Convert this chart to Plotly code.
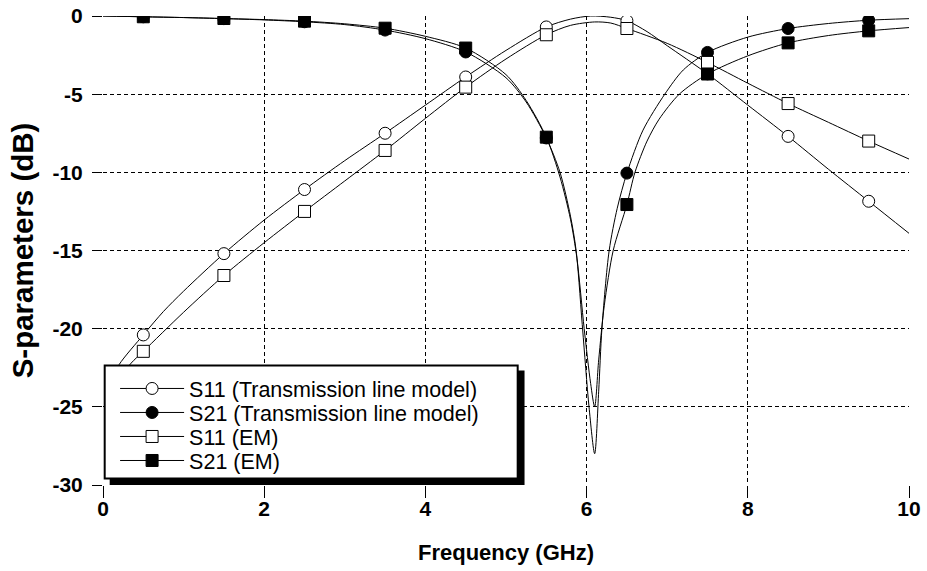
import plotly.graph_objects as go

# Frequency points (GHz) and S-parameter magnitudes (dB) for each curve
s11_tl_x = [0.10, 0.20, 0.50, 0.75, 1.00, 1.50, 2.00, 2.50, 3.00, 3.50, 4.00, 4.50,
            5.00, 5.50, 5.80, 6.05, 6.30, 6.50, 6.75, 7.00, 7.50, 8.00, 8.50, 9.00,
            9.50, 10.0]
s11_tl_y = [-23.4, -22.3, -20.4, -18.9, -17.6, -15.2, -13.05, -11.1, -9.25, -7.5, -5.7, -3.9,
            -2.2, -0.7, -0.2, 0.0, -0.08, -0.3, -1.0, -1.9, -3.7, -5.7, -7.7, -9.8,
            -11.85, -13.9]

s21_tl_x = [0.0, 0.5, 1.0, 1.5, 2.0, 2.5, 3.0, 3.5, 4.0, 4.5, 5.0, 5.25, 5.5, 5.67,
            5.8, 5.87, 5.95, 6.03, 6.10, 6.15, 6.19, 6.28, 6.38, 6.5, 6.7, 6.97, 7.2,
            7.5, 8.0, 8.5, 9.0, 9.5, 10.0]
s21_tl_y = [0.0, -0.05, -0.1, -0.17, -0.25, -0.37, -0.55, -0.9, -1.45, -2.3, -3.95, -5.5,
            -7.8, -10.0, -12.8, -15.0, -20.0, -25.0, -28.0, -24.0, -20.0, -15.0, -12.3,
            -10.05, -7.3, -5.0, -3.45, -2.33, -1.35, -0.8, -0.48, -0.27, -0.17]

s11_em_x = [0.20, 0.35, 0.50, 1.00, 1.50, 2.00, 2.50, 3.00, 3.50, 4.00, 4.50, 5.00,
            5.50, 5.80, 6.10, 6.30, 6.50, 7.00, 7.50, 8.00, 8.50, 9.00, 9.50, 10.0]
s11_em_y = [-23.2, -22.2, -21.45, -18.95, -16.6, -14.5, -12.5, -10.55, -8.6, -6.55, -4.55,
            -2.75, -1.2, -0.6, -0.38, -0.45, -0.8, -1.75, -2.97, -4.3, -5.6, -6.8, -8.0,
            -9.15]

s21_em_x = [0.0, 0.5, 1.0, 1.5, 2.0, 2.5, 3.0, 3.5, 4.0, 4.5, 5.0, 5.25, 5.5, 5.67,
            5.8, 5.88, 5.97, 6.05, 6.10, 6.15, 6.22, 6.33, 6.5, 6.6, 6.75, 6.9, 7.15,
            7.5, 8.0, 8.5, 9.0, 9.5, 10.0]
s21_em_y = [0.0, -0.05, -0.1, -0.16, -0.23, -0.33, -0.5, -0.78, -1.3, -2.05, -3.75, -5.4,
            -7.75, -10.3, -13.0, -15.5, -20.0, -23.5, -25.0, -22.0, -18.5, -15.0, -12.06,
            -10.0, -8.0, -6.6, -5.0, -3.71, -2.55, -1.72, -1.25, -0.95, -0.74]

# Frequencies that carry a symbol on every curve
marker_x = [0.5, 1.5, 2.5, 3.5, 4.5, 5.5, 6.5, 7.5, 8.5, 9.5]

x_ticks = [0, 2, 4, 6, 8, 10]
y_ticks = [0, -5, -10, -15, -20, -25, -30]
x_tick_text = ["0", "2", "4", "6", "8", "10"]
y_tick_text = ["0", "-5", "-10", "-15", "-20", "-25", "-30"]

FONT = "Arial, 'Liberation Sans', sans-serif"

series = [
    ("S11 (Transmission line model)", s11_tl_x, s11_tl_y, "circle", "white"),
    ("S21 (Transmission line model)", s21_tl_x, s21_tl_y, "circle", "black"),
    ("S11 (EM)", s11_em_x, s11_em_y, "square", "white"),
    ("S21 (EM)", s21_em_x, s21_em_y, "square", "black"),
]

# one single-entry legend per series, stacked inside the framed legend box
legend_ids = ["legend", "legend2", "legend3", "legend4"]
legend_rows = [0.2058, 0.1546, 0.1034, 0.0522]

fig = go.Figure()
for (name, xs, ys, symbol, fill), lid in zip(series, legend_ids):
    shown = [any(abs(x - m) < 1e-9 for m in marker_x) for x in xs]
    fig.add_trace(go.Scatter(
        x=xs, y=ys, name=name, mode="lines+markers", showlegend=False,
        line=dict(color="black", width=1, shape="spline", smoothing=0.8),
        marker=dict(symbol=symbol, color=fill, opacity=1,
                    size=[12 if s else 0 for s in shown],
                    line=dict(color="black", width=[1 if s else 0 for s in shown])),
    ))
    # legend key for the series
    fig.add_trace(go.Scatter(
        x=[None], y=[None], name=name, mode="lines+markers", legend=lid,
        line=dict(color="black", width=1),
        marker=dict(symbol=symbol, color=fill, size=12, opacity=1,
                    line=dict(color="black", width=1)),
    ))

# Legend frame with a drop shadow
fig.add_shape(type="rect", xref="paper", yref="paper", x0=0.0083, x1=0.523,
              y0=0.0, y1=0.2442, fillcolor="black", line=dict(width=0), layer="above")
fig.add_shape(type="rect", xref="paper", yref="paper", x0=0.0021, x1=0.5145,
              y0=0.0139, y1=0.2549, fillcolor="white",
              line=dict(color="black", width=2), layer="above")

axis_common = dict(
    showgrid=True, gridcolor="black", gridwidth=1, griddash="4px,3px",
    zeroline=False, showline=False, automargin=False,
    ticks="outside", tickcolor="black", tickwidth=1,
    tickfont=dict(family=FONT, size=21, color="black", weight="bold"),
)

legend_style = dict(
    xanchor="left", yanchor="middle",
    bgcolor="rgba(0,0,0,0)", borderwidth=0,
    font=dict(family=FONT, size=21.5, color="black"),
    itemwidth=64,
)

fig.update_layout(
    width=927, height=571,
    margin=dict(l=103, r=18, t=16, b=86, autoexpand=False),
    paper_bgcolor="white", plot_bgcolor="white",
    font=dict(family=FONT, color="black"),
    showlegend=True,
    legend=dict(x=0.015, y=legend_rows[0], **legend_style),
    legend2=dict(x=0.015, y=legend_rows[1], **legend_style),
    legend3=dict(x=0.015, y=legend_rows[2], **legend_style),
    legend4=dict(x=0.015, y=legend_rows[3], **legend_style),
    xaxis=dict(
        range=[0, 10], tickvals=x_ticks, ticktext=x_tick_text, ticklen=12,
        ticklabelstandoff=-7,
        title=dict(text="Frequency (GHz)", standoff=25,
                   font=dict(family=FONT, size=22, color="black", weight="bold")),
        **axis_common,
    ),
    yaxis=dict(
        range=[-30, 0], tickvals=y_ticks, ticktext=y_tick_text, ticklen=10,
        ticklabelstandoff=5,
        title=dict(text="S-parameters (dB)", standoff=10,
                   font=dict(family=FONT, size=29.5, color="black", weight="bold")),
        **axis_common,
    ),
)

fig.write_html("out.html")
